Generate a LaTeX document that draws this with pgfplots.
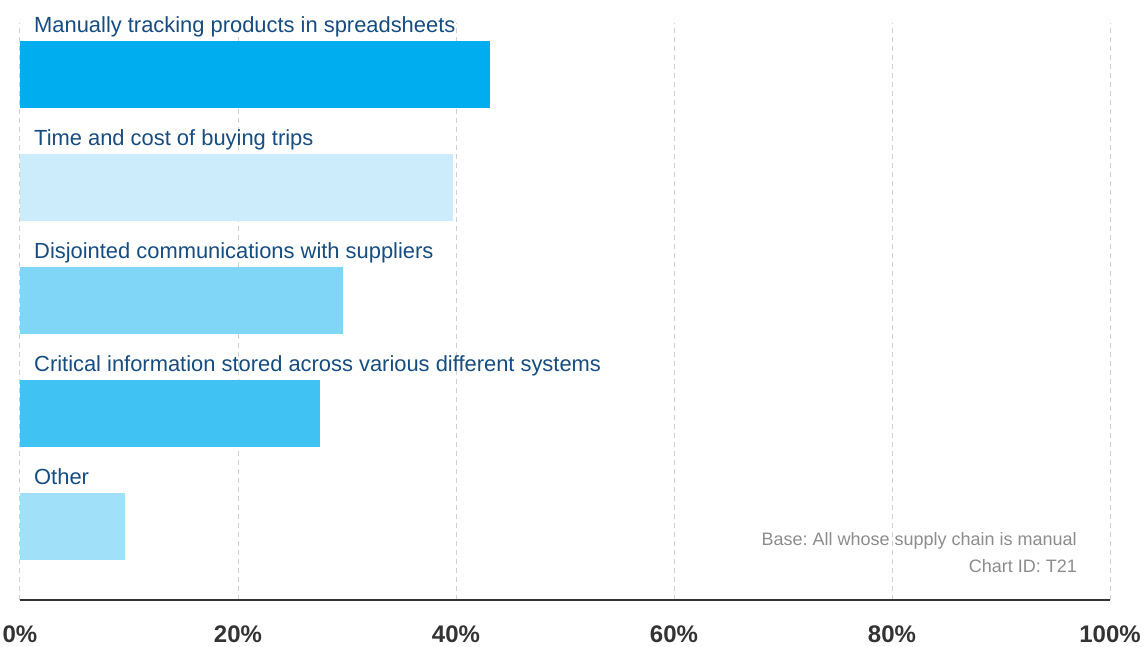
\documentclass[border=0pt]{standalone}
\usepackage{pgfplots}
\pgfplotsset{compat=1.18}
\usepackage{fontspec}
\setmainfont{Liberation Sans}
\frenchspacing
\definecolor{lab}{RGB}{22,76,128}
\definecolor{tickc}{RGB}{51,51,51}
\definecolor{foot}{RGB}{140,140,140}
\definecolor{cA}{RGB}{0,174,239}
\definecolor{cB}{RGB}{204,236,251}
\definecolor{cC}{RGB}{128,214,247}
\definecolor{cD}{RGB}{64,195,243}
\definecolor{cE}{RGB}{160,224,249}
\begin{document}
\begin{tikzpicture}
\useasboundingbox (0,0) rectangle (1146pt,646pt);
\begin{axis}[
  at={(20pt,46pt)}, anchor=south west,
  scale only axis, width=1090pt, height=577pt,
  xmin=0, xmax=100, ymin=-0.65, ymax=4.456,
  xbar, bar width=67pt, bar shift=0pt,
  axis x line*=bottom, axis y line=none,
  x axis line style={draw=tickc, line width=2pt, -},
  xtick={0,20,40,60,80,100},
  xticklabels={0\%,20\%,40\%,60\%,80\%,100\%},
  xticklabel style={anchor=base, yshift=-42pt, font=\fontsize{24}{28}\selectfont\bfseries, text=tickc, inner sep=0pt},
  major tick length=0pt,
  ytick=\empty,
  xmajorgrids,
  grid style={dash pattern=on 5pt off 4pt, color=black!18, line width=1pt},
  clip=false,
]
\addplot[fill=cA, draw=none] coordinates {(43.1,4)};
\addplot[fill=cB, draw=none] coordinates {(39.7,3)};
\addplot[fill=cC, draw=none] coordinates {(29.65,2)};
\addplot[fill=cD, draw=none] coordinates {(27.5,1)};
\addplot[fill=cE, draw=none] coordinates {(9.65,0)};
\begin{scope}[every node/.style={anchor=base west, inner sep=0pt, text=lab, font=\fontsize{21.9}{25}\selectfont, xshift=14pt, yshift=42.5pt}]
\node at (axis cs:0,4) {Manually tracking products in spreadsheets};
\node at (axis cs:0,3) {Time and cost of buying trips};
\node at (axis cs:0,2) {Disjointed communications with suppliers};
\node at (axis cs:0,1) {Critical information stored across various different systems};
\node at (axis cs:0,0) {Other};
\end{scope}
\end{axis}
\node[anchor=base east, inner sep=0pt, text=foot, font=\fontsize{18}{22}\selectfont] at (1077pt,101pt) {Base: All whose supply chain is manual};
\node[anchor=base east, inner sep=0pt, text=foot, font=\fontsize{18}{22}\selectfont] at (1077pt,74pt) {Chart ID: T21};
\end{tikzpicture}
\end{document}
